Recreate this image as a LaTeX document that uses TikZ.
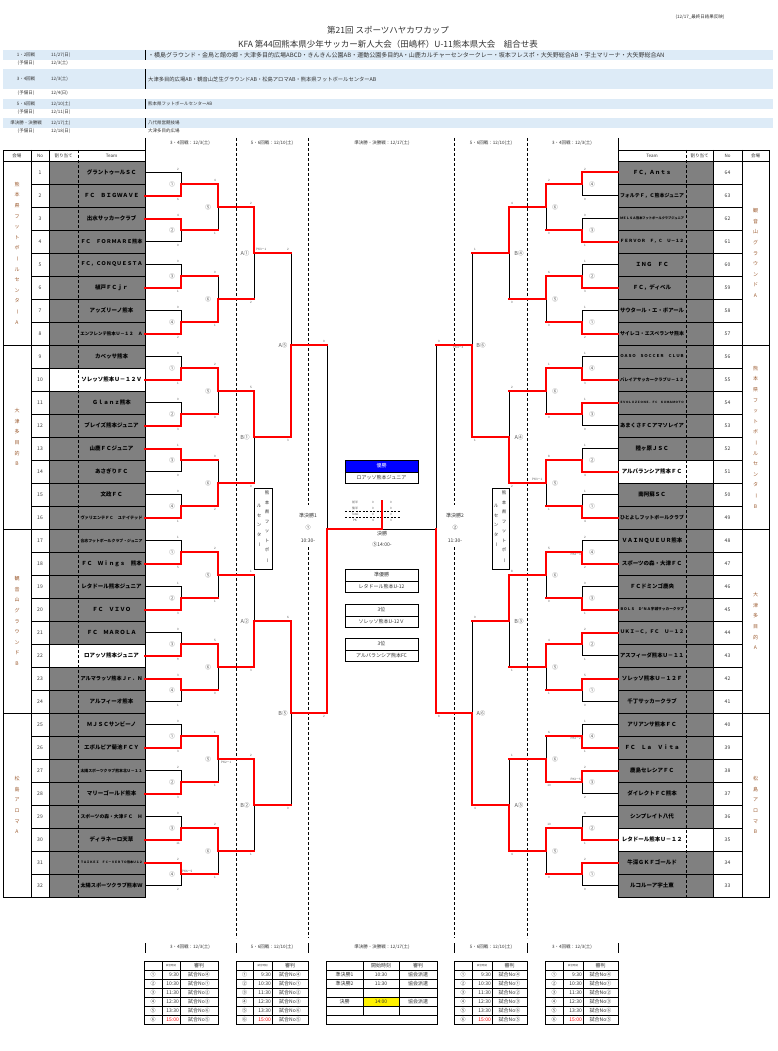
\documentclass[tikz,border=0pt]{standalone}
\usepackage{fontspec}
\setmainfont{Noto Sans CJK JP}
\pgfdeclarelayer{redl}
\pgfsetlayers{main,redl}
\definecolor{band}{HTML}{DDEBF7}
\definecolor{cellgray}{HTML}{808080}
\definecolor{lbl}{HTML}{595959}
\definecolor{txt}{HTML}{333333}
\definecolor{grpc}{HTML}{9C5A2E}
\tikzset{
 bk/.style={black,line width=0.8pt},
 rd/.style={red,line width=2pt,line cap=rect},
 tl/.style={black,line width=0.8pt},
 dsh/.style={black,line width=0.7pt,dash pattern=on 3pt off 2pt},
 mlab/.style={font=\fontsize{5.5}{6}\selectfont,text=lbl,inner sep=0},
 sco/.style={font=\fontsize{3}{3}\selectfont,text=lbl,inner sep=0},
 pkl/.style={font=\fontsize{3}{3}\selectfont,text=lbl,inner sep=0},
 team/.style={font=\fontsize{5.5}{6}\selectfont\bfseries,inner sep=0},
 num/.style={font=\fontsize{5}{6}\selectfont,text=txt,inner sep=0},
 hd/.style={font=\fontsize{4.5}{5}\selectfont,text=txt,inner sep=0},
 grp/.style={font=\fontsize{5}{10.6}\selectfont,text=grpc,inner sep=0,align=center},
 vbox/.style={font=\fontsize{4.5}{9.5}\selectfont,text=txt,inner sep=0,align=center},
 ctr/.style={font=\fontsize{5}{6}\selectfont,text=txt,inner sep=0},
 tb/.style={font=\fontsize{5}{6}\selectfont,text=txt,inner sep=0},
}
\newsavebox\fitbox
\newcommand\fitw[2]{\sbox\fitbox{#2}\ifdim\wd\fitbox>#1\resizebox{#1}{!}{\usebox\fitbox}\else\usebox\fitbox\fi}
\newcommand\vl{\rotatebox[origin=c]{-90}{ー}}
% match: xin xj xout ytop ybot winner(t/b)
\newcommand\mt[6]{%
 \pgfmathsetmacro\ymid{(#4+#5)/2}%
 \draw[bk] (#1,#4)--(#2,#4)--(#2,#5)--(#1,#5) (#2,\ymid)--(#3,\ymid);
 \if#6t\edef\yw{#4}\else\edef\yw{#5}\fi
 \begin{pgfonlayer}{redl}\draw[rd] (#1,\yw)--(#2,\yw)--(#2,\ymid)--(#3,\ymid);\end{pgfonlayer}%
}
\newcommand\scs[5]{\node[sco] at (#1,{#2-3.5}) {#4}; \node[sco] at (#1,{#3+3.5}) {#5};}
\newcommand\sched[4]{%
 \draw[tl] (#1,961) rectangle (#4,1024);
 \draw[tl] (#2,961)--(#2,1024) (#3,961)--(#3,1024);
 \foreach \j in {970,979,...,1015} \draw[tl] (#1,\j)--(#4,\j);
 \node[font=\fontsize{2.5}{3}\selectfont,text=txt,inner sep=0] at ({(#2+#3)/2},965.5) {試合時刻};
 \node[tb] at ({(#3+#4)/2},965.5) {審判};
 \foreach \yy/\cc/\tt/\rr/\col in {974.5/①/9:30/試合No④/txt,983.5/②/10:30/試合No①/txt,992.5/③/11:30/試合No②/txt,1001.5/④/12:30/試合No③/txt,1010.5/⑤/13:30/試合No⑥/txt,1019.5/⑥/15:00/試合No⑤/red}{
  \node[tb] at ({(#1+#2)/2},\yy) {\cc};
  \node[tb,anchor=east,text=\col] at ({#3-1},\yy) {\tt};
  \node[tb] at ({(#3+#4)/2},\yy) {\rr};
 }
}
\begin{document}
\begin{tikzpicture}[x=1pt,y=-1pt]
\useasboundingbox (0,0) rectangle (777,1051);
\fill[white] (0,0) rectangle (777,1051);

% ---------- header ----------
\node[hd] (upd) at (700,17) {(12/17\_最終日結果反映)};
\node[font=\fontsize{8.5}{9}\selectfont,text=txt,inner sep=0] (t1) at (388,30) {第21回 スポーツハヤカワカップ};
\node[font=\fontsize{8.5}{9}\selectfont,text=txt,inner sep=0] (t2) at (388,44) {KFA 第44回熊本県少年サッカー新人大会（田嶋杯）U-11熊本県大会　組合せ表};

\fill[band] (3,50) rectangle (773,60);
\fill[band] (3,69) rectangle (773,89);
\fill[band] (3,99) rectangle (773,109);
\fill[band] (3,118) rectangle (773,128);
\foreach \a/\b in {50/60,69/89,99/109,118/128} \draw[tl] (145,\a)--(145,\b);
\foreach \yy/\r/\d in {55/1・2回戦/{11/27(日)},63/(予備日)/{12/3(土)},79/3・4回戦/{12/3(土)},93/(予備日)/{12/4(日)},104/5・6回戦/{12/10(土)},112/(予備日)/{12/11(日)},123/準決勝・決勝戦/{12/17(土)},131/(予備日)/{12/18(日)}}{
 \node[hd] at (26,\yy) {\r};
 \node[hd,anchor=west] at (51,\yy) {\d};
}
\node[font=\fontsize{6}{6}\selectfont,text=txt,inner sep=0,anchor=west] (v1) at (148,55) {・横島グラウンド・金鳥と館の郷・大津多目的広場ABCD・きんきん公園AB・運動公園多目的A・山鹿カルチャーセンタークレー・坂本フレスポ・大矢野総合AB・宇土マリーナ・大矢野総合AN};
\node[font=\fontsize{5.3}{6}\selectfont,text=txt,inner sep=0,anchor=west] (v3) at (148,79) {大津多目的広場AB・観音山芝生グラウンドAB・松島アロマAB・熊本県フットボールセンターAB};
\node[hd,anchor=west] (v5) at (148,104) {熊本県フットボールセンターAB};
\node[hd,anchor=west] (v7) at (148,123) {八代県営競技場};
\node[hd,anchor=west] (v8) at (148,131) {大津多目的広場};

% column headers top and bottom
\foreach \yy in {143,947}{
 \node[hd] at (190,\yy) {3・4回戦：12/3(土)};
 \node[hd] at (272,\yy) {5・6回戦：12/10(土)};
 \node[hd] at (382,\yy) {準決勝・決勝戦：12/17(土)};
 \node[hd] at (491,\yy) {5・6回戦：12/10(土)};
 \node[hd] at (572,\yy) {3・4回戦：12/3(土)};
}
\draw[tl] (145,138)--(145,150) (618,138)--(618,150);
\foreach \xx in {145,236,308,454,527,618} \draw[tl] (\xx,943)--(\xx,953);
\draw[dsh] (236,138)--(236,938) (527,138)--(527,938);
\draw[dsh] (308,138)--(308,505) (308,547)--(308,938);
\draw[dsh] (454,138)--(454,505) (454,547)--(454,938);

% ---------- left table ----------
\fill[cellgray] (49,161) rectangle (145,897);
\fill[white] (49,368) rectangle (145,391);
\fill[white] (49,644) rectangle (145,667);
\draw[tl] (3,150) rectangle (145,897);
\draw[tl] (3,161)--(145,161) (31,150)--(31,897) (49,150)--(49,897);
\draw[dsh] (78,150)--(78,897);
\foreach \i in {1,...,31} \draw[tl] (31,{161+23*\i})--(145,{161+23*\i});
\foreach \g in {345,529,713} \draw[tl] (3,\g)--(145,\g);
\node[hd] at (17,155.5) {会場};
\node[hd] at (40,155.5) {No};
\node[hd] at (63.5,155.5) {割り当て};
\node[hd] at (111.5,155.5) {Team};

\foreach \i/\nm in {1/グラントゥールＳＣ,2/ＦＣ　ＢＩＧＷＡＶＥ,3/出水サッカークラブ,4/ＦＣ　ＦＯＲＭＡＲＥ熊本,5/ＦＣ，ＣＯＮＱＵＥＳＴＡ,6/植戸ＦＣｊｒ,7/アッズリーノ熊本,8/エンフレンテ熊本Ｕ－１２　Ａ,9/カベッサ熊本,10/ソレッソ熊本Ｕ－１２Ｖ,11/Ｇｌａｎｚ熊本,12/ブレイズ熊本ジュニア,13/山鹿ＦＣジュニア,14/あさぎりＦＣ,15/文政ＦＣ,16/ヴァリエンテＦＣ　ユナイテッド,17/合志フットボールクラブ・ジュニア,18/ＦＣ　Ｗｉｎｇｓ　熊本,19/レタドール熊本ジュニア,20/ＦＣ　ＶＩＶＯ,21/ＦＣ　ＭＡＲＯＬＡ,22/ロアッソ熊本ジュニア,23/アルマラッソ熊本Ｊｒ．Ｎ,24/アルフィーオ熊本,25/ＭＪＳＣサンビーノ,26/エボルピア菊池ＦＣＹ,27/太陽スポーツクラブ熊本北Ｕ－１１,28/マリーゴールド熊本,29/スポーツの森・大津ＦＣ　Ｈ,30/ディラネーロ天草,31/ＴＡＩＫＥＩ　ＦＣ－ＶＥＲＴＯ熊本Ｕ１２,32/太陽スポーツクラブ熊本Ｗ}{
 \pgfmathsetmacro\yy{149.5+23*\i}
 \node[num] at (40,\yy) {\i};
 \node[team] at (111.5,\yy) {\fitw{62pt}{\nm}};
}
\node[grp] (g1) at (17,253) {熊\\本\\県\\フ\\ッ\\ト\\ボ\\\vl\\ル\\セ\\ン\\タ\\\vl\\A};
\node[grp] (g2) at (17,437) {大\\津\\多\\目\\的\\B};
\node[grp] (g3) at (17,621) {観\\音\\山\\グ\\ラ\\ウ\\ン\\ド\\B};
\node[grp] (g4) at (17,805) {松\\島\\ア\\ロ\\マ\\A};

% ---------- right table ----------
\fill[cellgray] (618,161) rectangle (713,897);
\fill[white] (618,460) rectangle (713,483);
\fill[white] (618,828) rectangle (713,851);
\draw[tl] (618,150) rectangle (769,897);
\draw[tl] (618,161)--(769,161) (713,150)--(713,897) (742,150)--(742,897);
\draw[dsh] (686,150)--(686,897);
\foreach \i in {1,...,31} \draw[tl] (618,{161+23*\i})--(742,{161+23*\i});
\foreach \g in {345,529,713} \draw[tl] (618,\g)--(769,\g);
\node[hd] at (652,155.5) {Team};
\node[hd] at (699.5,155.5) {割り当て};
\node[hd] at (727.5,155.5) {No};
\node[hd] at (755.5,155.5) {会場};
\foreach \i/\nm in {64/ＦＣ，Ａｎｔｓ,63/フォルテＦ，Ｃ熊本ジュニア,62/ＭＥＬＳＡ熊本フットボールクラブジュニア,61/ＦＥＲＶＯＲ　Ｆ，Ｃ　Ｕ－１２,60/ＩＮＧ　ＦＣ,59/ＦＣ，ディベル,58/サウタール・エ・ボアール,57/サイレコ・エスペランサ熊本,56/ＯＡＳＯ　ＳＯＣＣＥＲ　ＣＬＵＢ,55/バレイアサッカークラブＵ－１２,54/ＥＶＯＬＵＺＩＯＮＥ．ＦＣ　ＫＵＭＡＭＯＴＯ,53/あまくさＦＣアマソレイア,52/陸ヶ原ＪＳＣ,51/アルバランシア熊本ＦＣ,50/南阿蘇ＳＣ,49/ひとよしフットボールクラブ,48/ＶＡＩＮＱＵＥＵＲ熊本,47/スポーツの森・大津ＦＣ,46/ＦＣドミンゴ鹿央,45/ＢＯＬＳ　Ｄ’ＮＡ宇城サッカークラブ,44/ＵＫＩ－Ｃ，ＦＣ　Ｕ－１２,43/アスフィーダ熊本Ｕ－１１,42/ソレッソ熊本Ｕ－１２Ｆ,41/千丁サッカークラブ,40/アリアンサ熊本ＦＣ,39/ＦＣ　Ｌａ　Ｖｉｔａ,38/鹿島セレシアＦＣ,37/ダイレクトＦＣ熊本,36/シンプレイト八代,35/レタドール熊本Ｕ－１２,34/牛深ＧＫＦゴールド,33/ルコルーア宇土東}{
 \pgfmathsetmacro\yy{149.5+23*(65-\i)}
 \node[num] at (727.5,\yy) {\i};
 \node[team] at (652,\yy) {\fitw{64pt}{\nm}};
}
\node[grp] (g5) at (755.5,253) {観\\音\\山\\グ\\ラ\\ウ\\ン\\ド\\A};
\node[grp] (g6) at (755.5,437) {熊\\本\\県\\フ\\ッ\\ト\\ボ\\\vl\\ル\\セ\\ン\\タ\\\vl\\B};
\node[grp] (g7) at (755.5,621) {大\\津\\多\\目\\的\\A};
\node[grp] (g8) at (755.5,805) {松\\島\\ア\\ロ\\マ\\B};

% ---------- left bracket ----------
\foreach \k/\w/\a/\b/\lab in {1/b/2/6/①,2/t/4/0/②,3/b/0/1/③,4/b/0/2/④,5/b/0/1/①,6/b/0/3/②,7/t/1/0/③,8/b/0/1/④,9/b/1/5/①,10/b/1/3/②,11/b/0/9/③,12/t/3/1/④,13/b/0/3/①,14/b/2/3/②,15/b/0/11/③,16/t/2/2/④}{
 \pgfmathsetmacro\yt{149.5+23*(2*\k-1)}\pgfmathsetmacro\yb{\yt+23}
 \mt{145}{181}{218}{\yt}{\yb}{\w}
 \scs{178}{\yt}{\yb}{\a}{\b}
 \node[mlab] at (172,{\yt+11.5}) {\lab};
}
\foreach \m/\w/\a/\b/\lab in {1/t/4/1/⑤,2/b/0/1/⑥,3/t/2/0/⑤,4/b/0/2/⑥,5/t/2/1/⑤,6/t/5/0/⑥,7/t/1/1/⑤,8/t/2/1/⑥}{
 \pgfmathsetmacro\yt{161+23*(4*\m-3)}\pgfmathsetmacro\yb{\yt+46}
 \mt{181}{218}{254}{\yt}{\yb}{\w}
 \scs{215}{\yt}{\yb}{\a}{\b}
 \node[mlab] at (208,{\yt+23}) {\lab};
}
\foreach \n/\w/\a/\b/\lab in {1/t/2/2/A①,2/t/5/0/B①,3/b/1/3/A②,4/t/2/1/B②}{
 \pgfmathsetmacro\yt{161+23*(8*\n-6)}\pgfmathsetmacro\yb{\yt+92}
 \mt{218}{254}{291}{\yt}{\yb}{\w}
 \scs{251}{\yt}{\yb}{\a}{\b}
 \node[mlab] at (245,{\yt+46}) {\lab};
}
\mt{254}{291}{327}{253}{437}{b} \scs{288}{253}{437}{2}{3} \node[mlab] at (283,345) {A⑤};
\mt{254}{291}{327}{621}{805}{t} \scs{288}{621}{805}{6}{0} \node[mlab] at (283,713) {B⑤};
\mt{291}{327}{382}{345}{713}{b} \scs{324}{345}{713}{0}{2}

% ---------- right bracket ----------
\foreach \k/\w/\a/\b/\lab in {1/t/2/0/④,2/b/0/1/③,3/b/1/3/②,4/b/1/2/①,5/b/1/3/④,6/t/1/0/③,7/b/1/4/②,8/b/1/4/①,9/b/2/2/④,10/b/0/1/③,11/t/2/1/②,12/t/5/0/①,13/b/1/1/④,14/t/2/2/③,15/b/0/1/②,16/t/2/0/①}{
 \pgfmathsetmacro\yt{149.5+23*(2*\k-1)}\pgfmathsetmacro\yb{\yt+23}
 \mt{618}{582}{546}{\yt}{\yb}{\w}
 \scs{585}{\yt}{\yb}{\a}{\b}
 \node[mlab] at (592,{\yt+11.5}) {\lab};
}
\foreach \m/\w/\a/\b/\lab in {1/t/2/0/⑥,2/t/6/0/⑤,3/t/1/0/⑥,4/t/8/1/⑤,5/t/5/0/⑥,6/t/4/1/⑤,7/b/6/10/⑥,8/t/10/0/⑤}{
 \pgfmathsetmacro\yt{161+23*(4*\m-3)}\pgfmathsetmacro\yb{\yt+46}
 \mt{582}{546}{509}{\yt}{\yb}{\w}
 \scs{549}{\yt}{\yb}{\a}{\b}
 \node[mlab] at (555,{\yt+23}) {\lab};
}
\foreach \n/\w/\a/\b/\lab in {1/t/4/0/B④,2/b/2/2/A④,3/t/8/1/B③,4/b/1/4/A③}{
 \pgfmathsetmacro\yt{161+23*(8*\n-6)}\pgfmathsetmacro\yb{\yt+92}
 \mt{546}{509}{472}{\yt}{\yb}{\w}
 \scs{512}{\yt}{\yb}{\a}{\b}
 \node[mlab] at (519,{\yt+46}) {\lab};
}
\mt{509}{472}{436}{253}{437}{b} \scs{475}{253}{437}{1}{1} \node[mlab] at (481,345) {B⑥};
\mt{509}{472}{436}{621}{805}{b} \scs{475}{621}{805}{0}{4} \node[mlab] at (481,713) {A⑥};
\draw[bk] (472,345)--(436,345)--(436,713)--(472,713) (436,529)--(382,529);
\begin{pgfonlayer}{redl}\draw[rd] (472,713)--(436,713)--(436,529);\draw[rd] (382,529)--(382,501);\end{pgfonlayer}
\scs{439}{345}{713}{0}{8}

% PK labels
\node[pkl,anchor=west] at (256,249) {PK3－1};
\node[pkl,anchor=west] at (221,762) {PK2－1};
\node[pkl,anchor=west] at (182,871) {PK6－5};
\node[pkl,anchor=west] at (453,347) {PK4－3};
\node[pkl,anchor=west] at (532,479) {PK3－1};
\node[pkl,anchor=east] at (581,554) {PK4－3};
\node[pkl,anchor=east] at (581,738) {PK3－2};
\node[pkl,anchor=east] at (581,779) {PK3－5};

% ---------- center ----------
\draw[tl] (254,488) rectangle (272,569);
\node[vbox,anchor=north] at (267,491) {熊\\本\\県\\フ\\ッ\\ト\\ボ\\\vl};
\node[vbox,anchor=north] at (259,504) {ル\\セ\\ン\\タ\\\vl};
\draw[tl] (492,488) rectangle (509,569);
\node[vbox,anchor=north] at (504,491) {熊\\本\\県\\フ\\ッ\\ト\\ボ\\\vl};
\node[vbox,anchor=north] at (496,504) {ル\\セ\\ン\\タ\\\vl};

\node[ctr] at (308,516) {準決勝1};
\node[ctr] at (308,528) {①};
\node[ctr] at (308,541) {10:30-};
\node[ctr] at (455,516) {準決勝2};
\node[ctr] at (455,528) {②};
\node[ctr] at (455,541) {11:30-};
\node[ctr] at (382,534) {決勝};
\node[ctr] at (382,545) {⑤14:00-};

\fill[blue] (345,460) rectangle (418,472);
\draw[tl] (345,460) rectangle (418,483) (345,472)--(418,472);
\node[ctr,text=white] at (381.5,466) {優勝};
\node[ctr] at (381.5,477.5) {ロアッソ熊本ジュニア};
\draw[tl] (345,569) rectangle (418,592) (345,581)--(418,581);
\node[ctr] at (381.5,575) {準優勝};
\node[ctr] at (381.5,586.5) {レタドール熊本U-12};
\draw[tl] (345,604) rectangle (418,627) (345,616)--(418,616);
\node[ctr] at (381.5,610) {3位};
\node[ctr] at (381.5,621.5) {ソレッソ熊本U-12Ｖ};
\draw[tl] (345,638) rectangle (418,661) (345,650)--(418,650);
\node[ctr] at (381.5,644) {3位};
\node[ctr] at (381.5,655.5) {アルバランシア熊本FC};

\draw[black,line width=0.6pt,dash pattern=on 2pt off 1.5pt] (345,511.5)--(400,511.5) (345,517)--(400,517);
\foreach \yy/\r/\a/\b in {502/前半/0/0,508/後半/0/0,514/Total/0/0,520/PK/4/3}{
 \node[sco] at (355,\yy) {\r};
 \node[sco] at (373,\yy) {\a};
 \node[sco] at (391,\yy) {\b};
}

% ---------- bottom tables ----------
\sched{144}{162}{180}{218}
\sched{236}{253}{272}{308}
\sched{454}{472}{492}{527}
\sched{545}{563}{583}{618}
\fill[yellow] (363,997) rectangle (399,1006);
\draw[tl] (326,961) rectangle (437,1024);
\draw[tl] (363,961)--(363,1015) (399,961)--(399,1015);
\foreach \j in {970,979,...,1015} \draw[tl] (326,\j)--(437,\j);
\node[tb] at (381,965.5) {開始時刻};
\node[tb] at (418,965.5) {審判};
\node[tb] at (344.5,974.5) {準決勝1};
\node[tb] at (381,974.5) {10:30};
\node[tb] at (418,974.5) {協会派遣};
\node[tb] at (344.5,983.5) {準決勝2};
\node[tb] at (381,983.5) {11:30};
\node[tb] at (418,983.5) {協会派遣};
\node[tb] at (344.5,1001.5) {決勝};
\node[tb] at (381,1001.5) {14:00};
\node[tb] at (418,1001.5) {協会派遣};
\end{tikzpicture}
\end{document}
